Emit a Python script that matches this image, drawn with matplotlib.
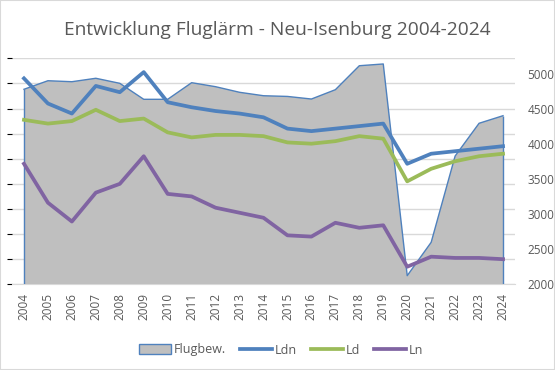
import matplotlib
matplotlib.use("Agg")
import matplotlib.pyplot as plt
from matplotlib.patches import Patch, Rectangle
from matplotlib.lines import Line2D

# data
years = list(range(2004, 2025))
flugbew = [4782, 4904, 4890, 4939, 4867, 4639, 4639, 4876, 4819, 4739, 4690,
           4680, 4643, 4776, 5118, 5143, 2123, 2599, 3830, 4297, 4405]
ldn = [60.4, 58.4, 57.6, 59.8, 59.3, 60.9, 58.5, 58.1, 57.8, 57.6, 57.3,
       56.4, 56.2, 56.4, 56.6, 56.8, 53.6, 54.4, 54.6, 54.8, 55.0]
ld = [57.1, 56.8, 57.0, 57.9, 57.0, 57.2, 56.1, 55.7, 55.9, 55.9, 55.8,
      55.3, 55.2, 55.4, 55.8, 55.6, 52.2, 53.2, 53.8, 54.2, 54.4]
ln = [53.6, 50.5, 49.0, 51.3, 52.0, 54.2, 51.2, 51.0, 50.1, 49.7, 49.3,
      47.9, 47.8, 48.9, 48.5, 48.7, 45.4, 46.2, 46.1, 46.1, 46.0]
right_ticks = [2000, 2500, 3000, 3500, 4000, 4500, 5000]

blue = '#4F81BD'
green = '#9BBB59'
purple = '#8064A2'
area_col = '#BFBFBF'
grid_col = '#D9D9D9'
text_col = '#595959'

plt.rcParams['font.family'] = ['Open Sans', 'DejaVu Sans']

fig = plt.figure(figsize=(5.55, 3.7), dpi=100)
rect = [12 / 555, 1 - 284.3 / 370, (515 - 12) / 555, (284.3 - 58.3) / 370]

x = list(range(len(years)))

# grid layer (hidden left axis, dB)
ax = fig.add_axes(rect)
ax.set_xlim(-0.5, len(years) - 0.5)
ax.set_ylim(44, 62)
ax.set_yticks([44 + 2 * i for i in range(10)])
ax.yaxis.grid(True, color=grid_col, linewidth=1)
ax.set_axisbelow(True)
ax.tick_params(axis='y', left=False, labelleft=False)
for s in ['top', 'left', 'right']:
    ax.spines[s].set_visible(False)
ax.spines['bottom'].set_color(grid_col)
ax.set_xticks(x)
ax.set_xticklabels([str(y) for y in years], rotation=90, fontsize=8.5, color=text_col)
ax.tick_params(axis='x', length=0, pad=6)

# area layer (right axis, flights)
ax_area = ax.twinx()
ax_area.set_ylim(2000, 2000 + 226.0 / 35.05 * 500)
ax_area.fill_between(x, flugbew, 0, facecolor=area_col, linewidth=0)
ax_area.plot(x, flugbew, color=blue, linewidth=1)
ax_area.vlines([x[0], x[-1]], 0, [flugbew[0], flugbew[-1]], color=blue, linewidth=1)
ax_area.set_yticks(right_ticks)
ax_area.tick_params(axis='y', length=0, pad=9, labelsize=8.5, labelcolor=text_col)
for s in ax_area.spines.values():
    s.set_visible(False)

# line layer (hidden axis, dB)
ax_l = ax.twinx()
ax_l.set_ylim(44, 62)
ax_l.plot(x, ldn, color=blue, linewidth=2.7)
ax_l.plot(x, ld, color=green, linewidth=2.7)
ax_l.plot(x, ln, color=purple, linewidth=2.7)
ax_l.set_yticks([])
for s in ax_l.spines.values():
    s.set_visible(False)

fig.text(0.5, 1 - 30 / 370, 'Entwicklung Fluglärm - Neu-Isenburg 2004-2024',
         ha='center', va='center', fontsize=13.8, color=text_col)

handles = [Patch(facecolor=area_col, edgecolor=blue, linewidth=1),
           Line2D([], [], color=blue, linewidth=2.7),
           Line2D([], [], color=green, linewidth=2.7),
           Line2D([], [], color=purple, linewidth=2.7)]
leg = fig.legend(handles, ['Flugbew.', 'Ldn', 'Ld', 'Ln'], loc='center',
                 bbox_to_anchor=(281 / 555, 20 / 370), ncol=4, frameon=False,
                 fontsize=9, handlelength=2.6, handletextpad=0.2, columnspacing=1.1,
                 handleheight=0.9)
for t in leg.get_texts():
    t.set_color(text_col)

fig.patches.append(Rectangle((0, 0), 1, 1, transform=fig.transFigure, fill=False,
                             edgecolor=grid_col, linewidth=1.5))

fig.savefig('out.png', dpi=100)
